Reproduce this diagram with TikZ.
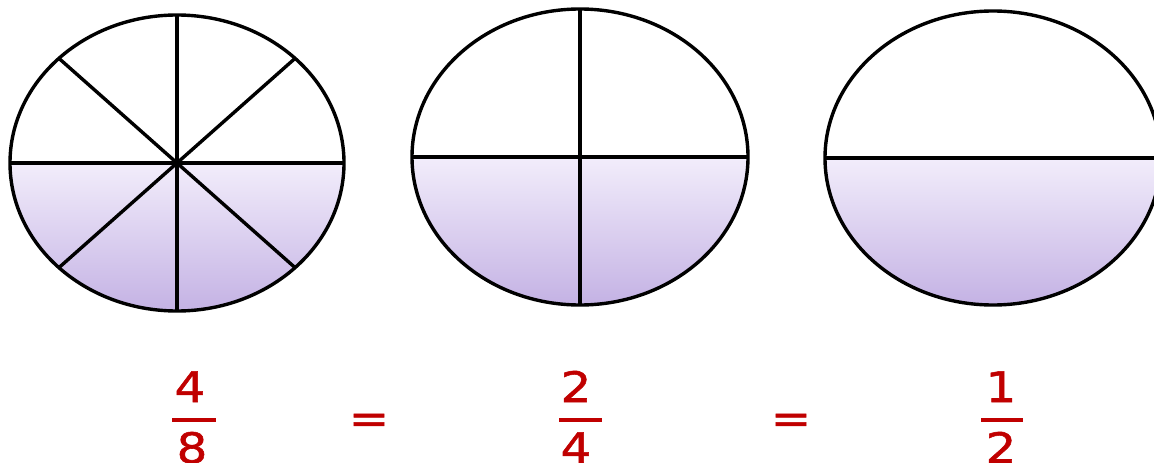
\documentclass[tikz,border=0pt]{standalone}
\usepackage{fontspec}
\newfontfamily\fracfont[FakeStretch=1.15,FakeBold=1.3]{DejaVu Sans}
\usetikzlibrary{calc}
\definecolor{FracRed}{RGB}{192,0,0}
\definecolor{ShadeTop}{RGB}{242,237,251}
\definecolor{ShadeBot}{RGB}{196,178,228}
\begin{document}
\begin{tikzpicture}[x=1pt,y=-1pt,
  rim/.style={draw=black, line width=3.4pt},
  spoke/.style={draw=black, line width=3.4pt},
  half/.style={top color=ShadeTop, bottom color=ShadeBot},
  digit/.style={text=FracRed, font=\fracfont\fontsize{42}{46}\selectfont,
    inner sep=0pt, anchor=base},
  bar/.style={draw=FracRed, line width=4pt}
]
\useasboundingbox (0,0) rectangle (1154,463);
\clip (0,0) rectangle (1154,463);

% centres of the three ellipses
\coordinate (c1) at (177,163);
\coordinate (c2) at (580,157);
\coordinate (c3) at (993,158);

% eighths
\shade[half] ($(c1)+(-167,0)$) arc[start angle=180, end angle=0,
  x radius=167, y radius=148] -- cycle;
\foreach \a in {45,90,...,360}
  \draw[spoke] (c1) -- ($(c1)+({167*cos(\a)},{148*sin(\a)})$);
\draw[rim] (c1) ellipse[x radius=167, y radius=148];

% quarters
\shade[half] ($(c2)+(-168,0)$) arc[start angle=180, end angle=0,
  x radius=168, y radius=148] -- cycle;
\foreach \a in {90,180,270,360}
  \draw[spoke] (c2) -- ($(c2)+({168*cos(\a)},{148*sin(\a)})$);
\draw[rim] (c2) ellipse[x radius=168, y radius=148];

% halves
\shade[half] ($(c3)+(-168,0)$) arc[start angle=180, end angle=0,
  x radius=168, y radius=147] -- cycle;
\draw[spoke] ($(c3)+(-168,0)$) -- ($(c3)+(168,0)$);
\draw[rim] (c3) ellipse[x radius=168, y radius=147];

% fractions
\node[digit] (n1) at (190,402) {4};
\node[digit] (d1) at (192,463) {8};
\draw[bar] ($(n1.base)+(-18,18)$) -- ($(n1.base)+(26,18)$);

\node[digit] (n2) at (576,402) {2};
\node[digit] (d2) at (576,463) {4};
\draw[bar] ($(n2.base)+(-17,18)$) -- ($(n2.base)+(26,18)$);

\node[digit] (n3) at (1001,402) {1};
\node[digit] (d3) at (1001,463) {2};
\draw[bar] ($(n3.base)+(-20,18)$) -- ($(n3.base)+(22,18)$);

\node[digit] (eq1) at (369,433) {=};
\node[digit] (eq2) at (791,433) {=};
\end{tikzpicture}
\end{document}
